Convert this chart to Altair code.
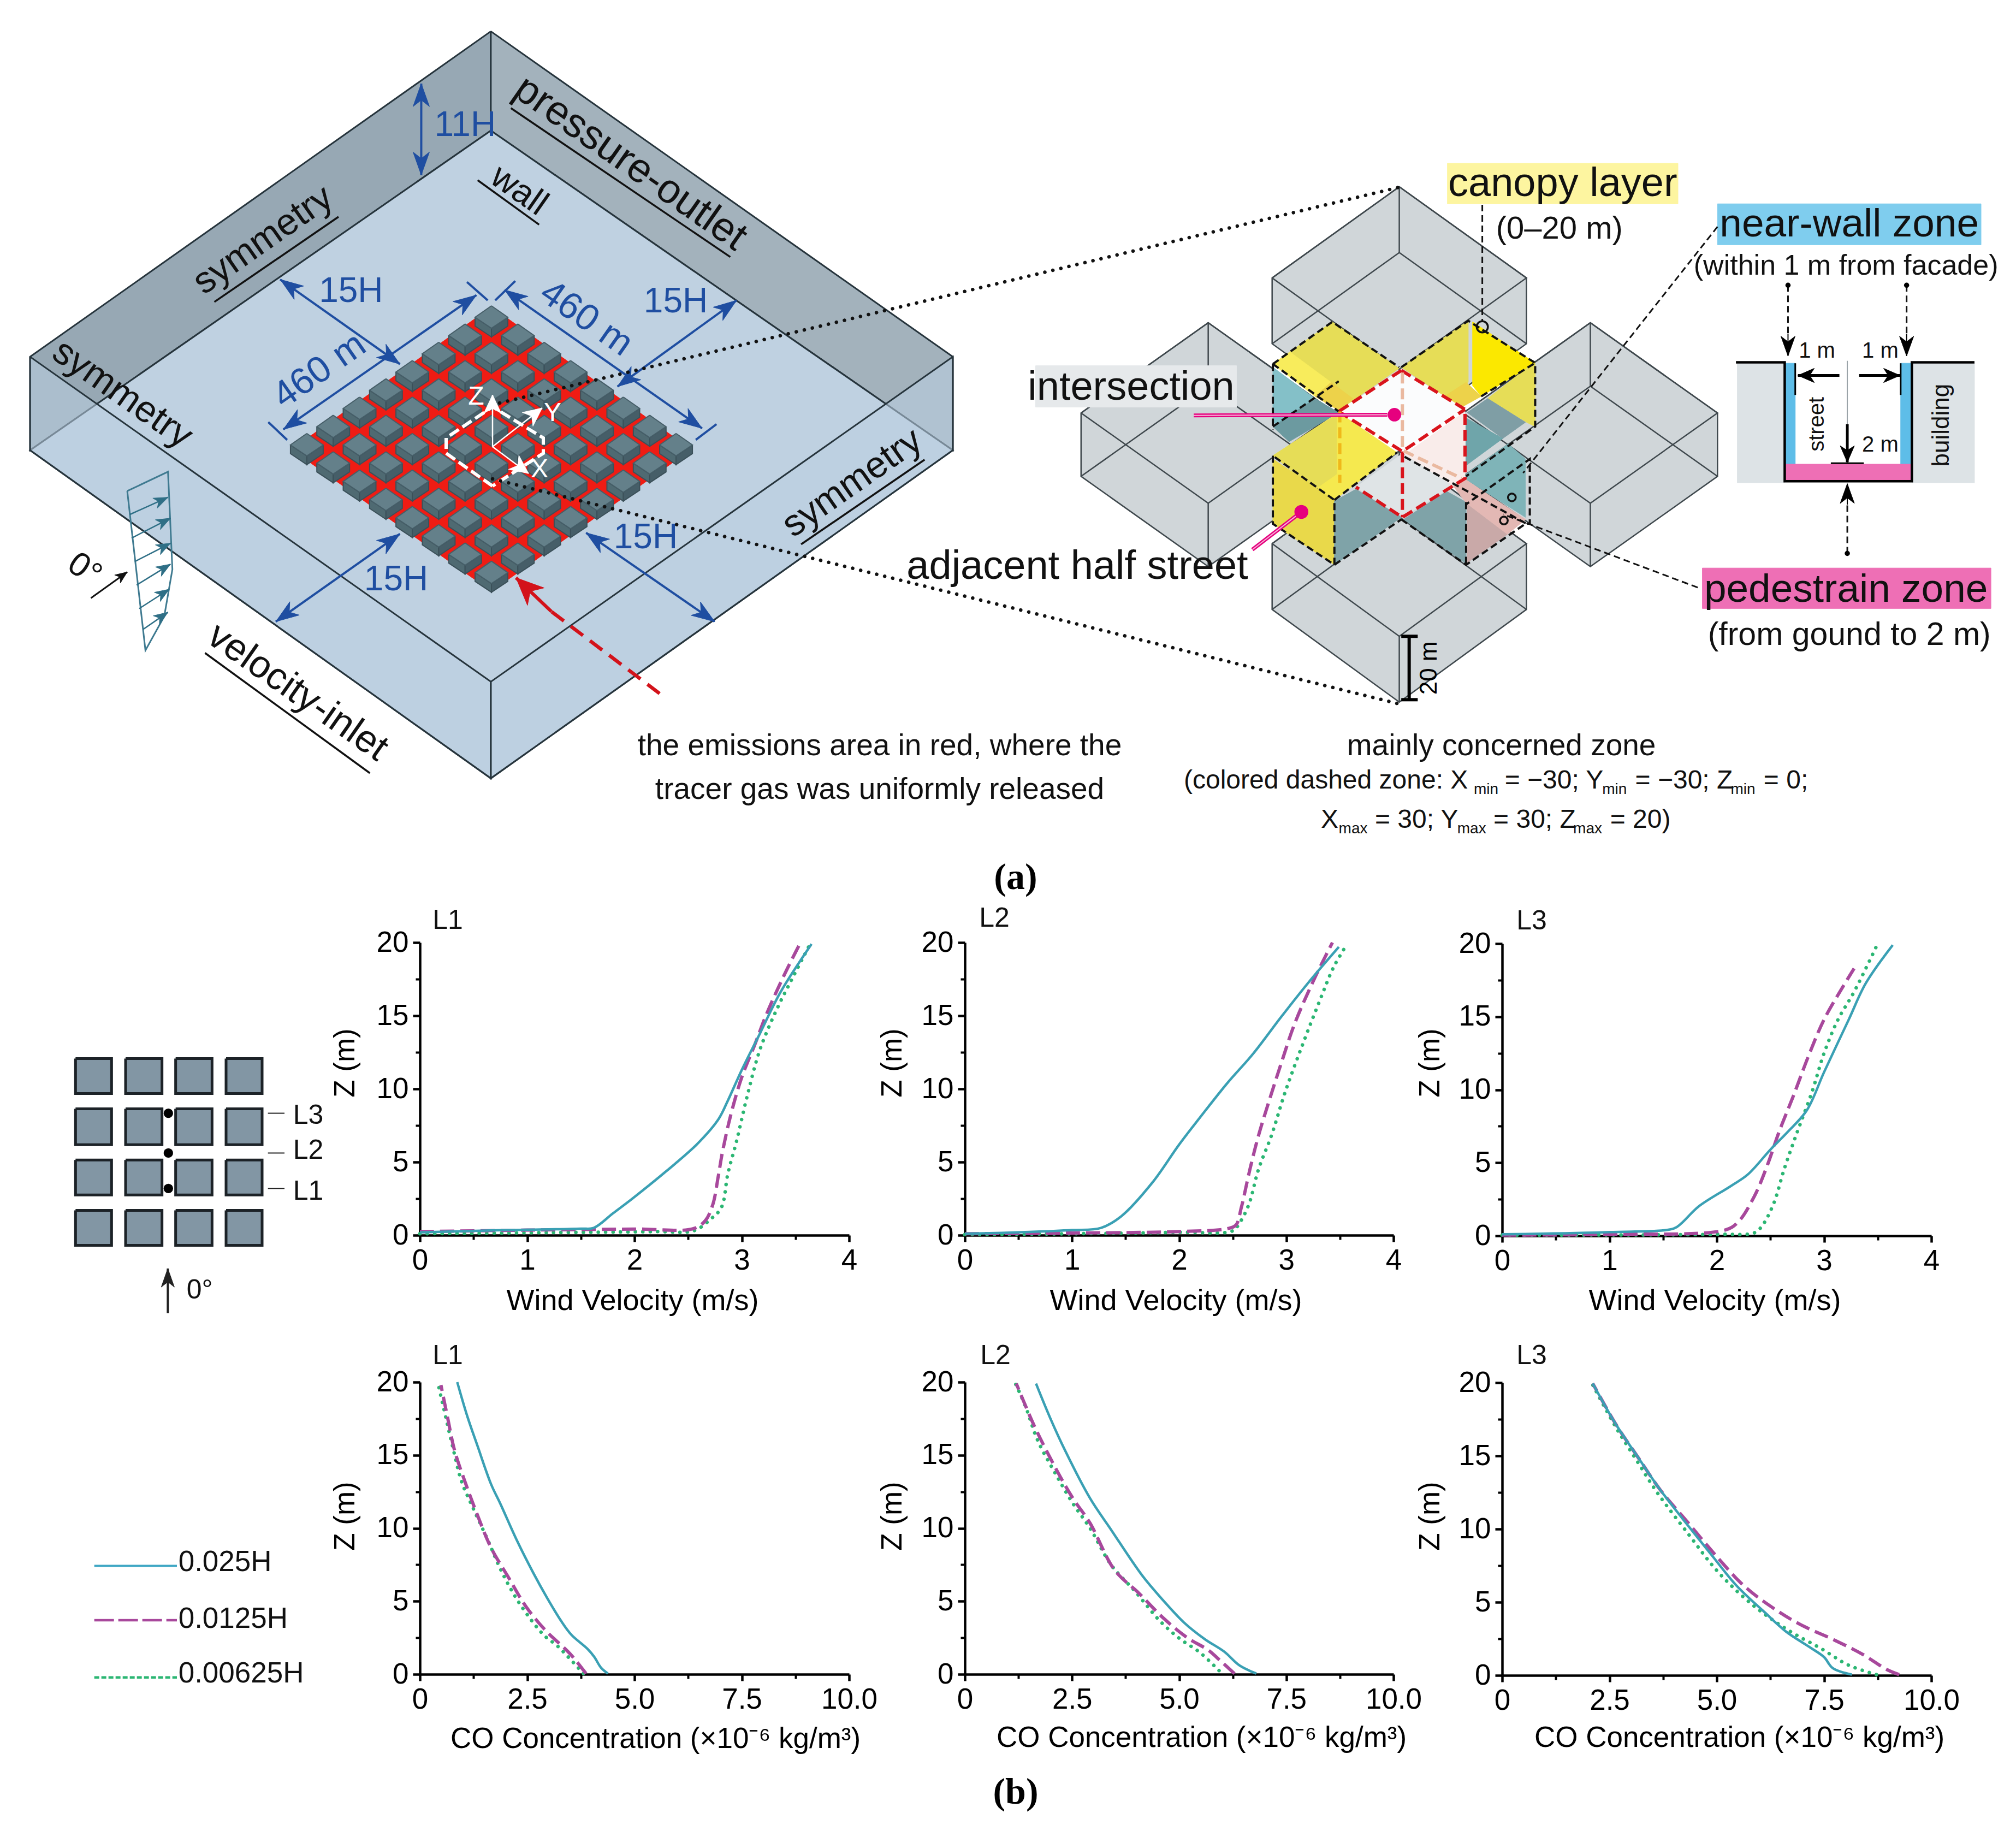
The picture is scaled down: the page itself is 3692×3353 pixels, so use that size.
import altair as alt
import pandas as pd

W, H = 3676, 3337
FONT = "Liberation Sans"
TEAL, PURPLE, GREEN = "#3aa0b4", "#a8489c", "#2bb673"
BLUE = "#1f4ea1"

# ---------- measured profiles: (value, height) ----------
L1_wind = {
 "t": [(0,0.2),(0.8,0.35),(1.5,0.45),(1.62,0.5),(1.8,1.5),(1.98,2.5),(2.3,4.4),(2.58,6.2),(2.78,7.9),(2.87,9.2),(3.0,11.3),(3.17,13.8),(3.36,16.6),(3.65,19.9)],
 "p": [(0,0.25),(1.0,0.35),(2.0,0.42),(2.55,0.45),(2.66,1.0),(2.73,2.1),(2.78,4.0),(2.82,5.7),(2.9,8.3),(3.0,10.8),(3.12,13.0),(3.23,15.1),(3.39,17.7),(3.54,19.9)],
 "g": [(0,0.1),(1.2,0.18),(2.2,0.25),(2.55,0.3),(2.71,1.1),(2.81,1.9),(2.87,4.2),(2.95,6.4),(3.05,9.5),(3.17,12.7),(3.33,15.5),(3.46,17.4),(3.63,19.8)],
}
L2_wind = {
 "t": [(0,0.1),(0.6,0.22),(1.0,0.35),(1.27,0.5),(1.46,1.3),(1.75,3.6),(2.0,6.2),(2.2,8.1),(2.45,10.4),(2.69,12.4),(2.95,14.9),(3.21,17.3),(3.49,19.7)],
 "p": [(0,0.1),(1.0,0.15),(2.0,0.25),(2.45,0.45),(2.53,0.7),(2.58,1.9),(2.66,4.5),(2.74,6.8),(2.84,9.2),(2.95,11.7),(3.08,14.5),(3.26,17.5),(3.43,20)],
 "g": [(0,0.05),(1,0.1),(2,0.2),(2.5,0.3),(2.56,0.8),(2.65,2.1),(2.74,4.5),(2.86,6.8),(2.99,9.8),(3.15,13),(3.31,16),(3.44,18.3),(3.55,19.7)],
}
L3_wind = {
 "t": [(0,0.1),(1,0.25),(1.6,0.5),(1.67,0.85),(1.83,2.0),(2.13,3.4),(2.29,4.2),(2.5,5.9),(2.66,7.1),(2.84,8.6),(3.0,11.2),(3.23,14.8),(3.39,17.3),(3.64,19.9)],
 "p": [(0,0.05),(1,0.1),(2.08,0.4),(2.2,0.95),(2.35,2.7),(2.47,4.8),(2.58,7.1),(2.71,9.5),(2.86,12.4),(3.0,14.8),(3.18,17.1),(3.28,18.3)],
 "g": [(0,0.05),(2,0.1),(2.35,0.2),(2.42,0.65),(2.53,2.2),(2.63,4.6),(2.74,6.9),(2.89,9.9),(3.0,12.5),(3.13,14.8),(3.28,16.7),(3.5,20)],
}
L1_co = {
 "t": [(4.38,0.05),(4.22,0.45),(4.06,1.2),(3.9,1.75),(3.53,2.7),(3.29,3.65),(2.96,5.25),(2.64,6.95),(2.27,9.1),(1.87,11.7),(1.66,13),(1.34,15.65),(1.1,17.7),(0.87,20)],
 "p": [(3.87,0.05),(3.53,1.3),(3.29,2.0),(2.96,2.9),(2.48,4.6),(2.07,6.6),(1.66,8.65),(1.34,10.9),(1.06,13.1),(0.81,15.3),(0.65,17.5),(0.49,19.8)],
 "g": [(3.81,0.05),(3.45,1.2),(3.2,1.95),(2.88,2.7),(2.31,4.9),(1.91,7),(1.58,9.2),(1.22,11.5),(0.97,13.2),(0.77,15.5),(0.61,17.5),(0.43,19.8)],
}
L2_co = {
 "t": [(6.8,0.05),(6.41,0.6),(6.05,1.55),(5.6,2.4),(5.11,3.55),(4.63,5.05),(4.14,6.75),(3.41,9.9),(2.92,12.05),(2.35,15.25),(1.99,17.55),(1.66,19.9)],
 "p": [(6.29,0.05),(5.97,0.9),(5.68,1.65),(5.19,2.5),(4.63,3.85),(4.06,5.55),(3.49,7.15),(2.92,10.35),(2.52,12.05),(2.11,14.15),(1.62,17),(1.2,19.9)],
 "g": [(5.93,0.25),(5.48,1.5),(5.03,2.4),(4.55,3.65),(3.98,5.65),(3.41,7.5),(2.92,10),(2.52,11.7),(2.11,13.75),(1.7,16),(1.42,18.3),(1.18,19.9)],
}
L3_co = {
 "t": [(8.15,0.05),(7.7,0.5),(7.5,1.25),(7.18,1.9),(6.61,3),(6.12,4.3),(5.47,6.1),(4.9,8.15),(4.34,10.2),(3.69,12.65),(3.2,14.75),(2.64,17.2),(2.11,19.95)],
 "p": [(9.25,0.05),(8.96,0.4),(8.39,1.45),(7.75,2.4),(6.93,3.5),(6.29,4.65),(5.64,6.1),(4.99,8.15),(4.34,10.4),(3.69,12.65),(3.2,14.75),(2.64,17.2),(2.11,19.95)],
 "g": [(8.72,0.05),(8.07,0.7),(7.42,1.85),(6.77,2.9),(6.2,4),(5.64,5.3),(4.99,7.2),(4.34,9.65),(3.61,12.5),(3.12,14.75),(2.64,17),(2.11,19.85)],
}

WIND_TITLE = "Wind Velocity (m/s)"
CO_TITLE = "CO Concentration (\u00d710\u207b\u2076 kg/m\u00b3)"

# panel frames: data, x0px, x1px, y0px, y20px, kind, title x, title y, z-title x, z-title y
PANELS = [
 (L1_wind, 769, 1555, 2262, 1726, "wind", 1158, 2382, 632, 1946),
 (L2_wind, 1767, 2552, 2262, 1726, "wind", 2153, 2382, 1634, 1946),
 (L3_wind, 2751, 3537, 2263, 1728, "wind", 3140, 2382, 2619, 1946),
 (L1_co, 769, 1555, 3066, 2531, "co", 1200, 3184, 632, 2776),
 (L2_co, 1767, 2552, 3066, 2531, "co", 2200, 3182, 1634, 2776),
 (L3_co, 2751, 3537, 3068, 2532, "co", 3185, 3182, 2619, 2776),
]

layers = []

def panel_layers(p):
    data, x0, x1, y0, y20, kind, tx, ty, zx, zy = p
    dom = [0, 4] if kind == "wind" else [0, 10]
    major = [0, 1, 2, 3, 4] if kind == "wind" else [0, 2.5, 5, 7.5, 10]
    minor = [0.5, 1.5, 2.5, 3.5] if kind == "wind" else [1.25, 3.75, 6.25, 8.75]
    expr = "format(datum.value,'d')" if kind == "wind" else "datum.value==0?'0':format(datum.value,'.1f')"
    sx = alt.Scale(domain=dom, range=[x0 - 8, x1 - 8], nice=False, zero=False)
    sy = alt.Scale(domain=[0, 20], range=[y0 - 8, y20 - 8], nice=False, zero=False)
    common = dict(grid=False, tickColor="black", domainColor="black", tickWidth=4.5, domainWidth=4.5)
    xoff = -(H - (y0 - 8))
    yoff = -(x0 - 8)
    xaxis = alt.Axis(orient="bottom", offset=xoff, values=major, tickSize=12, labelExpr=expr,
                     labelFont=FONT, labelFontSize=53, labelColor="black", labelPadding=8,
                     labelOverlap=False, labelFlush=False, title=WIND_TITLE if kind == "wind" else CO_TITLE,
                     titleFont=FONT, titleFontSize=54 if kind == "wind" else 53, titleFontWeight="normal",
                     titleColor="black", titleBaseline="middle", titleX=tx - 8, titleY=ty - y0, **common)
    yaxis = alt.Axis(orient="left", offset=yoff, values=[0, 5, 10, 15, 20], tickSize=13,
                     labelFont=FONT, labelFontSize=53, labelColor="black", labelPadding=8,
                     labelOverlap=False, labelFlush=False, title="Z (m)",
                     titleFont=FONT, titleFontSize=53, titleFontWeight="normal", titleColor="black",
                     titleBaseline="middle", titleX=zx - x0, titleY=zy - 8, **common)
    minor_x = alt.Axis(orient="bottom", offset=xoff, values=minor, tickSize=8, labels=False, domain=False,
                       title=None, grid=False, tickColor="black", tickWidth=4)
    minor_y = alt.Axis(orient="left", offset=yoff, values=[2.5, 7.5, 12.5, 17.5], tickSize=8, labels=False,
                       domain=False, title=None, grid=False, tickColor="black", tickWidth=4)
    out = []
    styles = [("g", GREEN, [0.1, 13.5], 6.5, "round"), ("p", PURPLE, [26, 11], 6, "butt"), ("t", TEAL, None, 4.5, "butt")]
    for i, (key, col, dash_, sw, cap) in enumerate(styles):
        df = pd.DataFrame({"v": [a for a, _ in data[key]], "z": [b for _, b in data[key]],
                           "i": list(range(len(data[key])))})
        kw = dict(color=col, strokeWidth=sw, strokeCap=cap, interpolate="catmull-rom")
        if dash_:
            kw["strokeDash"] = dash_
        ax = xaxis if i == 0 else None
        ay = yaxis if i == 0 else None
        out.append(alt.Chart(df).mark_line(**kw).encode(
            x=alt.X("v:Q", scale=sx, axis=ax), y=alt.Y("z:Q", scale=sy, axis=ay), order="i:Q"))
    df = pd.DataFrame({"v": [dom[0], dom[1]], "z": [0, 20]})
    out.insert(0, alt.Chart(df).mark_point(opacity=0).encode(
        x=alt.X("v:Q", scale=sx, axis=minor_x), y=alt.Y("z:Q", scale=sy, axis=minor_y)))
    return out

# ---------- schematic geometry, in picture pixels ----------
def z8(x, y):
    return (x * 1.148, y * 0.9566)

def z9(x, y):
    return (1800 + x * 1.2066, 250 + y * 0.8929)

def zk(x, y):
    return (100 + x / 3, 1900 + y * 0.801)

def z1(x, y):
    return (2250 + x * 0.3954, 540 + y * 0.3954)

shapes = []
dashed = {}

def add(pts, fill="#ffffff", stroke="#000000", sw=2.0, op=0.0, close=False, conv=None):
    pid = len(shapes)
    p = [conv(*q) if conv else q for q in pts]
    if close:
        p = p + [p[0]]
    shapes.append(pd.DataFrame({"pid": pid, "x": [q[0] for q in p], "y": [q[1] for q in p],
                                "i": range(len(p)), "fill": fill, "stroke": stroke, "sw": sw, "op": op}))

def poly(pts, fill, stroke="#000000", sw=2.0, op=1.0, conv=None):
    add(pts, fill, stroke, sw, op, True, conv)

def arrow(a, b, col, sw=4, hl=42, hw=15, conv=None, both=False):
    pa = conv(*a) if conv else a
    pb = conv(*b) if conv else b
    add([pa, pb], stroke=col, sw=sw)
    def head(s, e):
        dx, dy = e[0] - s[0], e[1] - s[1]
        n = (dx * dx + dy * dy) ** 0.5
        ux, uy = dx / n, dy / n
        poly([e, (e[0] - ux * hl - uy * hw, e[1] - uy * hl + ux * hw),
              (e[0] - ux * hl * 0.72, e[1] - uy * hl * 0.72),
              (e[0] - ux * hl + uy * hw, e[1] - uy * hl - ux * hw)], col, col, 1)
    head(pa, pb)
    if both:
        head(pb, pa)

def dash(name, pts, conv=None):
    dashed.setdefault(name, []).append([conv(*q) if conv else q for q in pts])

# outer domain
T, Lc, Rc, F = (783, 60), (48, 683), (1520, 683), (783, 1305)
Tf, Lf, Rf, Bf = (783, 250), (48, 862), (1520, 862), (783, 1490)
poly([T, Lc, Lf, Tf], "#97a8b4", "#26343c", 3, conv=z8)
poly([T, Rc, Rf, Tf], "#a3b2bc", "#26343c", 3, conv=z8)
poly([Tf, Rf, Bf, Lf], "#bfd1e1", "#26343c", 3, conv=z8)
poly([Lc, F, Bf, Lf], "#bcd0e2", "#26343c", 3, op=0.55, conv=z8)
poly([F, Rc, Rf, Bf], "#bcd0e2", "#26343c", 3, op=0.55, conv=z8)

# street block array: 8 x 8 around these pixel positions
poly([(900, 562), (1266, 823), (900, 1083), (534, 823)], "#ef1c14", "#ef1c14", 1)
BLOCK_TOP = (900, 581)
STEP = (48.3, 33.4)
GRID = range(8)
for s in range(15):
    for i in GRID:
        j = s - i
        if j not in GRID:
            continue
        cx, cy = BLOCK_TOP[0] + (i - j) * STEP[0], BLOCK_TOP[1] + (i + j) * STEP[1]
        poly([(cx - 30, cy), (cx, cy + 20), (cx, cy + 36), (cx - 30, cy + 16)], "#4f6a72", "#3b5059", 2)
        poly([(cx + 30, cy), (cx, cy + 20), (cx, cy + 36), (cx + 30, cy + 16)], "#465e68", "#3b5059", 2)
        poly([(cx, cy - 21), (cx + 30, cy), (cx, cy + 20), (cx - 30, cy)], "#64808a", "#465e68", 2)

# dimension arrows
DIMS = [((672, 160), (672, 335)), ((447, 535), (638, 697)), ((452, 822), (760, 565)), ((805, 555), (1120, 820)),
        ((985, 740), (1175, 575)), ((440, 1190), (638, 1022)), ((935, 1020), (1140, 1190))]
for a, b in DIMS:
    arrow(a, b, BLUE, conv=z8, both=True)
for a, b in [((428, 808), (458, 842)), ((745, 540), (778, 575)), ((790, 575), (822, 538)), ((1110, 842), (1143, 812))]:
    add([a, b], stroke=BLUE, sw=4, conv=z8)

# underlines
for a, b in [((342, 578), (540, 415)), ((815, 207), (1165, 492)), ((762, 345), (860, 430)),
             ((327, 1250), (590, 1480)), ((1278, 1042), (1475, 880))]:
    add([a, b], stroke="#111111", sw=3.5, conv=z8)

# inlet profile
add([(203, 940), (268, 903), (275, 1090), (262, 1180), (232, 1245), (203, 940)], stroke="#3f7a90", sw=3, conv=z8)
for a, b in [((207, 985), (268, 952)), ((210, 1030), (272, 992)), ((215, 1075), (272, 1040)),
             ((218, 1120), (272, 1080)), ((222, 1165), (270, 1128)), ((228, 1205), (268, 1172))]:
    arrow(a, b, "#2f6f86", sw=2.5, hl=26, hw=10, conv=z8)
arrow((145, 1145), (203, 1095), "#111111", sw=3, hl=22, hw=9, conv=z8)

# white local axes
ORIGIN = (902, 818)
for tip in [(902, 723), (993, 747), (968, 867)]:
    arrow(ORIGIN, tip, "#ffffff", sw=2.5, hl=34, hw=16)

# emission pointer
arrow((1010, 1120), (945, 1058), "#d3121a", sw=6, hl=50, hw=22)
dash("red", [(1208, 1270), (1010, 1120)])
dash("white", [(902, 890), (817, 830), (817, 802), (902, 745), (995, 802), (995, 830), (902, 890)])

# big wire boxes
BOXES = [(632, 103, 193, 187, 135), (342, 382, 193, 185, 130), (922, 382, 193, 185, 130), (632, 645, 193, 190, 135)]
for tx_, ty_, hw_, hh_, d_ in BOXES:
    poly([(tx_, ty_), (tx_ + hw_, ty_ + hh_), (tx_ + hw_, ty_ + hh_ + d_), (tx_, ty_ + 2 * hh_ + d_),
          (tx_ - hw_, ty_ + hh_ + d_), (tx_ - hw_, ty_ + hh_)], "#cdd4d7", "#3f484d", 2.5, op=0.95, conv=z9)
    add([(tx_ - hw_, ty_ + hh_), (tx_, ty_ + 2 * hh_), (tx_ + hw_, ty_ + hh_), (tx_, ty_), (tx_ - hw_, ty_ + hh_)],
        stroke="#3f484d", sw=2.5, conv=z9)
    add([(tx_ - hw_, ty_ + hh_ + d_), (tx_, ty_ + d_), (tx_ + hw_, ty_ + hh_ + d_)], stroke="#3f484d", sw=2.5, conv=z9)
    add([(tx_, ty_), (tx_, ty_ + d_)], stroke="#3f484d", sw=2.5, conv=z9)
    add([(tx_, ty_ + 2 * hh_), (tx_, ty_ + 2 * hh_ + d_)], stroke="#3f484d", sw=2.5, conv=z9)

FACES = [
 ([(205, 320), (480, 125), (790, 340), (510, 535)], "#e6dd57"),
 ([(205, 320), (285, 265), (475, 405), (400, 470)], "#f8ec5c"),
 ([(400, 470), (475, 405), (575, 480), (510, 535)], "#edd24a"),
 ([(205, 335), (400, 480), (225, 600), (205, 590)], "#84c0c8"),
 ([(205, 610), (400, 480), (510, 545), (280, 680)], "#6c9aa0"),
 ([(800, 335), (1110, 120), (1110, 405), (1000, 470)], "#e6dd57"),
 ([(1130, 125), (1420, 315), (1170, 470), (1130, 420)], "#fbe800"),
 ([(1000, 470), (1100, 405), (1170, 470), (1080, 520)], "#edd24a"),
 ([(1200, 480), (1380, 340), (1420, 320), (1420, 610), (1380, 590)], "#e6dd57"),
 ([(1105, 545), (1200, 480), (1375, 590), (1270, 665)], "#7f9ea5"),
 ([(1100, 570), (1270, 665), (1100, 790)], "#6fa5aa"),
 ([(1100, 830), (1295, 690), (1375, 760), (1375, 1030), (1090, 850)], "#7fb4b8"),
 ([(205, 745), (510, 545), (780, 730), (490, 950)], "#f5e94f"),
 ([(205, 745), (500, 555), (500, 830), (400, 900)], "#e6dd57"),
 ([(205, 760), (490, 950), (490, 1250), (205, 1060)], "#e9d94a"),
 ([(800, 345), (1095, 530), (805, 725), (510, 540)], "#fbfcfd"),
 ([(815, 740), (1095, 540), (1095, 850), (1040, 885)], "#f9ecea"),
 ([(805, 735), (1040, 885), (805, 1030), (590, 890)], "#dfe4e6"),
 ([(490, 955), (590, 900), (800, 1030), (490, 1250)], "#7fa3a8"),
 ([(810, 1040), (1010, 910), (1100, 960), (1100, 1245)], "#7fa3a8"),
 ([(1040, 885), (1090, 850), (1375, 1040), (1290, 1110), (1105, 970)], "#e3b8b4"),
 ([(1105, 970), (1290, 1110), (1105, 1240)], "#c9a9a8"),
]
for pts, col in FACES:
    poly(pts, col, col, 1, conv=z1)

for seg in [
    [(205, 320), (480, 125), (790, 335)], [(205, 320), (205, 625)], [(205, 320), (510, 540)],
    [(800, 335), (1110, 120), (1420, 315), (1420, 610), (1100, 840)], [(1170, 470), (1420, 315)],
    [(205, 745), (205, 1060), (490, 1250), (490, 950), (205, 745)], [(490, 950), (780, 730)],
    [(490, 1250), (800, 1040)], [(800, 1040), (1100, 1250), (1375, 1060), (1395, 1060), (1395, 760), (1100, 970)],
    [(1100, 960), (1100, 1250)], [(815, 750), (1380, 1060)], [(205, 610), (510, 400)]]:
    dash("black", seg, z1)
for seg in [[(758, 140), (758, 378)], [(1115, 185), (820, 690)], [(1085, 925), (790, 775)],
            [(1222, 305), (1222, 410)], [(1402, 305), (1402, 410)], [(1312, 855), (1312, 750)]]:
    dash("leader", seg, z9)
for seg in [[(800, 350), (1095, 530), (1095, 850), (805, 1030), (590, 890)], [(800, 350), (510, 540)],
            [(510, 540), (805, 725), (1095, 530)], [(805, 725), (805, 1030)]]:
    dash("redthin", seg, z1)
dash("amber", [(515, 540), (515, 870)], z1)
dash("salmon", [(805, 360), (805, 720), (1080, 850)], z1)
dash("dot", [(915, 738), (2566, 342)])
dash("dot", [(902, 877), (2566, 1290)])

# magenta leaders: a pale core inside a strong line
for seg in [[z9(320, 572), z1(735, 555)], [z1(110, 1180), z1(337, 1005)]]:
    dash("mag", seg)
    dash("magcore", seg)

# street section
poly([(1145, 465), (1217, 465), (1217, 710), (1145, 710)], "#dde3e6", "#dde3e6", 1, conv=z9)
poly([(1410, 465), (1505, 465), (1505, 710), (1410, 710)], "#dde3e6", "#dde3e6", 1, conv=z9)
poly([(1218, 465), (1233, 465), (1233, 705), (1218, 705)], "#5ebde8", "#5ebde8", 1, conv=z9)
poly([(1393, 465), (1408, 465), (1408, 705), (1393, 705)], "#5ebde8", "#5ebde8", 1, conv=z9)
poly([(1218, 672), (1408, 672), (1408, 705), (1218, 705)], "#ee6fb5", "#ee6fb5", 1, conv=z9)
add([(1143, 463), (1217, 463), (1217, 707), (1410, 707), (1410, 463), (1505, 463)], stroke="#000000", sw=4.5, conv=z9)
add([(1233, 465), (1233, 530)], stroke="#000000", sw=3, conv=z9)
add([(1393, 465), (1393, 530)], stroke="#000000", sw=3, conv=z9)
add([(1312, 460), (1312, 590)], stroke="#9aa3a8", sw=2, conv=z9)
add([(1287, 670), (1337, 670)], stroke="#000000", sw=3, conv=z9)
arrow((1300, 490), (1237, 490), "#000000", sw=5, hl=30, hw=13, conv=z9)
arrow((1330, 490), (1392, 490), "#000000", sw=5, hl=30, hw=13, conv=z9)
arrow((1312, 590), (1312, 668), "#000000", sw=5, hl=30, hw=13, conv=z9)
arrow((1222, 405), (1222, 450), "#000000", sw=2, hl=36, hw=13, conv=z9)
arrow((1402, 405), (1402, 450), "#000000", sw=2, hl=36, hw=13, conv=z9)
arrow((1312, 755), (1312, 712), "#000000", sw=2, hl=36, hw=13, conv=z9)
add([(647, 1025), (647, 1155)], stroke="#000000", sw=6, conv=z9)
add([(635, 1025), (660, 1025)], stroke="#000000", sw=6, conv=z9)
add([(635, 1155), (660, 1155)], stroke="#000000", sw=6, conv=z9)

# text backgrounds
BACKS = [((705, 55), (1055, 138), "#fdf5a0"), ((1115, 138), (1515, 222), "#7fcdee"),
         ((1092, 885), (1530, 968), "#ee6fb5"), ((80, 470), (385, 555), "#e6e9eb")]
for a, b, col in BACKS:
    poly([a, (b[0], a[1]), b, (a[0], b[1])], col, col, 1, conv=z9)

# key plan
KEY_X = [(115, 313), (390, 590), (665, 865), (942, 1140)]
KEY_Y = [(48, 128), (163, 245), (280, 360), (395, 475)]
for ya, yb in KEY_Y:
    for xa, xb in KEY_X:
        poly([(xa, ya), (xb, ya), (xb, yb), (xa, yb)], "#8296a4", "#1c2227", 5, conv=zk)
for y in (173, 264, 345):
    add([(1172, y), (1263, y)], stroke="#222222", sw=2, conv=zk)
arrow((622, 630), (622, 528), "#222222", sw=4, hl=34, hw=12, conv=zk)

# hand-made legend swatches
add([(218, 1208), (672, 1208)], stroke="#3fa7c4", sw=4, conv=zk)
dash("legp", [(218, 1332), (672, 1332)], zk)
dash("legg", [(218, 1463), (672, 1463)], zk)

shape_df = pd.concat(shapes, ignore_index=True)

psx = alt.Scale(domain=[8, 3684], range=[0, W], nice=False, zero=False)
psy = alt.Scale(domain=[8, 3345], range=[0, H], nice=False, zero=False)
PX = lambda f="x": alt.X(f"{f}:Q", scale=psx, axis=None)
PY = lambda f="y": alt.Y(f"{f}:Q", scale=psy, axis=None)

layers.append(alt.Chart(shape_df).mark_line().encode(
    x=PX(), y=PY(), order="i:Q", detail="pid:N",
    fill=alt.Fill("fill:N", scale=None), stroke=alt.Stroke("stroke:N", scale=None),
    strokeWidth=alt.StrokeWidth("sw:Q", scale=None), fillOpacity=alt.FillOpacity("op:Q", scale=None)))

STYLES = {
 "red": dict(color="#d3121a", strokeWidth=6.5, strokeDash=[28, 16]),
 "white": dict(color="#ffffff", strokeWidth=6, strokeDash=[20, 8]),
 "black": dict(color="#111111", strokeWidth=4, strokeDash=[13, 7]),
 "leader": dict(color="#111111", strokeWidth=3, strokeDash=[12, 7]),
 "redthin": dict(color="#d9141c", strokeWidth=6, strokeDash=[20, 9]),
 "amber": dict(color="#f0b81a", strokeWidth=6, strokeDash=[20, 9]),
 "salmon": dict(color="#eab9a0", strokeWidth=6, strokeDash=[20, 9]),
 "dot": dict(color="#111111", strokeWidth=6.5, strokeDash=[0.1, 15], strokeCap="round"),
 "mag": dict(color="#e6007e", strokeWidth=7),
 "magcore": dict(color="#f6b6d8", strokeWidth=2),
 "legp": dict(color=PURPLE, strokeWidth=4.5, strokeDash=[36, 8]),
 "legg": dict(color=GREEN, strokeWidth=4.5, strokeDash=[9, 4]),
}
for name, segs in dashed.items():
    rows = [dict(s=k, x=q[0], y=q[1], i=n) for k, seg in enumerate(segs) for n, q in enumerate(seg)]
    layers.append(alt.Chart(pd.DataFrame(rows)).mark_line(**STYLES[name]).encode(
        x=PX(), y=PY(), order="i:Q", detail="s:N"))

# dots
dots = []
for p, s, c in [(z1(768, 555), 615, "#e6007e"), (z1(337, 1005), 650, "#e6007e"), (z9(1222, 305), 90, "#000000"),
                (z9(1402, 305), 90, "#000000"), (z9(1312, 855), 90, "#000000"),
                (zk(625, 173), 300, "#000000"), (zk(625, 264), 300, "#000000"), (zk(625, 345), 300, "#000000")]:
    dots.append(dict(x=p[0], y=p[1], s=s, c=c))
layers.append(alt.Chart(pd.DataFrame(dots)).mark_circle(opacity=1).encode(
    x=PX(), y=PY(), size=alt.Size("s:Q", scale=None), color=alt.Color("c:N", scale=None)))
rings = [dict(x=z1(*q)[0], y=z1(*q)[1], s=r) for q, r in [((1175, 148), 420), ((1312, 938), 200), ((1275, 1045), 200)]]
layers.append(alt.Chart(pd.DataFrame(rings)).mark_point(color="#111111", strokeWidth=3.5, opacity=1).encode(
    x=PX(), y=PY(), size=alt.Size("s:Q", scale=None)))

# ---------- text ----------
texts = []
def tx(s, p, size=52, ang=0, col="#111111", al="center"):
    texts.append(dict(t=s, x=p[0], y=p[1], a=ang, s=size, c=col, al=al))

tx("11H", z8(742, 240), 64, col=BLUE)
tx("symmetry", z8(420, 460), 68, 325)
tx("pressure-outlet", z8(1006, 312), 75, 35)
tx("wall", z8(828, 365), 64, 35)
tx("symmetry", z8(195, 755), 68, 35)
tx("symmetry", z8(1360, 925), 68, 325)
tx("velocity-inlet", z8(475, 1325), 70, 35)
tx("15H", z8(560, 558), 64, col=BLUE)
tx("460 m", z8(510, 710), 68, 325, BLUE)
tx("460 m", z8(935, 610), 68, 35, BLUE)
tx("15H", z8(1078, 578), 64, col=BLUE)
tx("15H", z8(1030, 1030), 64, col=BLUE)
tx("15H", z8(632, 1110), 64, col=BLUE)
tx("0\u00b0", z8(135, 1090), 62, 35)
tx("Z", (872, 727), 48, col="#ffffff")
tx("Y", (1012, 757), 48, col="#ffffff")
tx("X", (988, 860), 48, col="#ffffff")
tx("the emissions area in red, where the", (1611, 1366), 55)
tx("tracer gas was uniformly released", (1611, 1446), 55)
tx("canopy layer", z9(880, 97), 74)
tx("(0\u201320 m)", z9(875, 190), 58)
tx("near-wall zone", z9(1315, 180), 73)
tx("(within 1 m from facade)", z9(1310, 265), 52)
tx("intersection", z9(225, 515), 74)
tx("adjacent half street", (1973, 1038), 74)
tx("pedestrain zone", z9(1310, 930), 73)
tx("(from gound to 2 m)", z9(1315, 1023), 59)
tx("mainly concerned zone", z9(787, 1250), 55)
tx("1 m", z9(1266, 440), 40)
tx("1 m", z9(1362, 440), 40)
tx("2 m", z9(1362, 633), 40)
tx("street", z9(1266, 590), 40, 270)
tx("building", z9(1455, 592), 44, 270)
tx("20 m", z9(678, 1090), 44, 270, "#000000")

# zone-limit lines, split so that the subscripts can sit lower and smaller
LIM1 = [("(colored dashed zone: X", 305, 0), ("min", 745, 1), ("= \u221230; Y", 792, 0), ("min", 940, 1),
        ("= \u221230; Z", 990, 0), ("min", 1135, 1), ("= 0;", 1185, 0)]
LIM2 = [("X", 513, 0), ("max", 540, 1), ("= 30; Y", 595, 0), ("max", 720, 1),
        ("= 30; Z", 775, 0), ("max", 896, 1), ("= 20)", 952, 0)]
for line, yy in ((LIM1, 1322), (LIM2, 1402)):
    for s, xx, sub in line:
        tx(s, z9(xx, yy + (18 * sub)), 28 if sub else 48, al="left")

# key and legend labels
tx("L3", zk(1310, 178), 50, al="left")
tx("L2", zk(1310, 258), 50, al="left")
tx("L1", zk(1310, 352), 50, al="left")
tx("0\u00b0", zk(725, 578), 50, al="left")
tx("0.025H", zk(680, 1200), 53, al="left")
tx("0.0125H", zk(680, 1330), 53, al="left")
tx("0.00625H", zk(680, 1455), 53, al="left")
for s, p in [("L1", (820, 1686)), ("L2", (1821, 1682)), ("L3", (2805, 1687)),
             ("L1", (820, 2483)), ("L2", (1823, 2483)), ("L3", (2805, 2483))]:
    tx(s, p, 50)

tdf = pd.DataFrame(texts)
for al in ("center", "left"):
    layers.append(alt.Chart(tdf[tdf.al == al]).mark_text(font=FONT, align=al, baseline="middle").encode(
        x=PX(), y=PY(), text="t:N", angle=alt.Angle("a:Q", scale=None),
        size=alt.Size("s:Q", scale=None), color=alt.Color("c:N", scale=None)))

SUB = pd.DataFrame({"t": ["(a)", "(b)"], "x": [1860, 1860], "y": [1608, 3283]})
layers.append(alt.Chart(SUB).mark_text(font="Liberation Serif", fontWeight="bold", fontSize=68,
                                       align="center", baseline="middle", color="black").encode(
    x=PX(), y=PY(), text="t:N"))

for p in PANELS:
    layers.extend(panel_layers(p))

chart = alt.layer(*layers).resolve_scale(
    x="independent", y="independent", color="independent", size="independent",
    fill="independent", stroke="independent", angle="independent"
).properties(width=W, height=H, padding=0, autosize=alt.AutoSizeParams(type="none"),
             background="white").configure_view(stroke=None)

chart.save("out.html", embed_options={"renderer": "svg", "actions": False})
